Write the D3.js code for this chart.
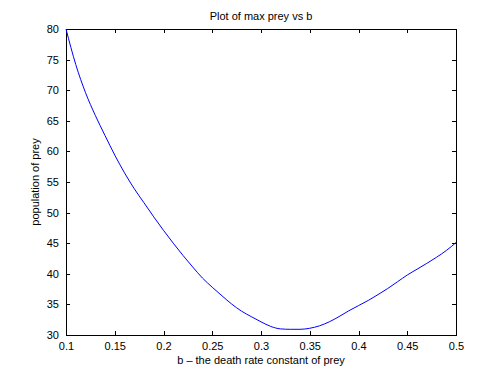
<!DOCTYPE html>
<html>
<head>
<meta charset="utf-8">
<script src="https://cdn.jsdelivr.net/npm/d3@7"></script>
<style>
  body { margin: 0; background: #fff; }
  text { font-family: "Liberation Sans", Arial, sans-serif; font-size: 11px; fill: #000; }
</style>
</head>
<body>
<script>
// b values (death rate constant) and max prey
var bValues = [0.10, 0.11, 0.12, 0.13, 0.14, 0.15, 0.16, 0.17, 0.18, 0.19,
               0.20, 0.21, 0.22, 0.23, 0.24, 0.25, 0.26, 0.27, 0.28, 0.29,
               0.30, 0.31, 0.32, 0.33, 0.34, 0.35, 0.36, 0.37, 0.38, 0.39,
               0.40, 0.41, 0.42, 0.43, 0.44, 0.45, 0.46, 0.47, 0.48, 0.49, 0.50];
var maxPrey = [80.0, 74.2, 69.6, 65.9, 62.6, 59.4, 56.5, 53.9, 51.6, 49.3,
               47.1, 45.0, 43.0, 41.1, 39.3, 37.8, 36.4, 35.05, 33.9, 33.0,
               32.15, 31.4, 31.0, 30.93, 30.93, 31.1, 31.5, 32.15, 33.0, 33.95,
               34.8, 35.65, 36.6, 37.6, 38.7, 39.8, 40.75, 41.7, 42.7, 43.8, 45.1];
var xTicks = [0.1, 0.15, 0.2, 0.25, 0.3, 0.35, 0.4, 0.45, 0.5];
var yTicks = [30, 35, 40, 45, 50, 55, 60, 65, 70, 75, 80];

var w = 504, h = 378;
// plot box edges (px)
var padL = 66, padR = 456, padT = 29, padB = 335;

var svg = d3.select("body").append("svg")
  .attr("width", w)
  .attr("height", h);

var x = d3.scaleLinear().domain([0.1, 0.5]).range([padL, padR]);
var y = d3.scaleLinear().domain([30, 80]).range([padB, padT]);

// axes box, ticks pointing inward like matlab
var xAxis = d3.axisBottom(x).tickValues(xTicks).tickSizeInner(-4).tickSizeOuter(0).tickPadding(7)
  .tickFormat(function(d) { return String(+d.toFixed(2)); });
var yAxis = d3.axisLeft(y).tickValues(yTicks).tickSizeInner(-4).tickSizeOuter(0).tickPadding(7);

svg.append("g").attr("transform", "translate(0," + padB + ")").call(xAxis);
svg.append("g").attr("transform", "translate(" + padL + ",0)").call(yAxis);
svg.append("g").attr("transform", "translate(0," + padT + ")")
  .call(d3.axisTop(x).tickValues(xTicks).tickSizeInner(-4).tickSizeOuter(0).tickFormat(""));
svg.append("g").attr("transform", "translate(" + padR + ",0)")
  .call(d3.axisRight(y).tickValues(yTicks).tickSizeInner(-4).tickSizeOuter(0).tickFormat(""));

svg.selectAll(".domain, .tick line")
  .attr("stroke", "#000")
  .attr("shape-rendering", "crispEdges");
svg.selectAll(".tick text")
  .style("font-family", "'Liberation Sans', Arial, sans-serif")
  .style("font-size", "11px")
  .attr("fill", "#000");

// the curve
var line = d3.line()
  .x(function(d, i) { return x(bValues[i]); })
  .y(function(d) { return y(d); })
  .curve(d3.curveMonotoneX);

svg.append("path")
  .datum(maxPrey)
  .attr("d", line)
  .attr("fill", "none")
  .attr("stroke", "#0000ff")
  .attr("stroke-width", 1);

// labels
svg.append("text")
  .attr("x", (padL + padR) / 2)
  .attr("y", 20)
  .attr("text-anchor", "middle")
  .text("Plot of max prey vs b");

svg.append("text")
  .attr("x", (padL + padR) / 2)
  .attr("y", 364)
  .attr("text-anchor", "middle")
  .text("b \u2013 the death rate constant of prey");

svg.append("text")
  .attr("transform", "translate(39," + ((padT + padB) / 2) + ") rotate(-90)")
  .attr("text-anchor", "middle")
  .text("population of prey");
</script>
</body>
</html>
